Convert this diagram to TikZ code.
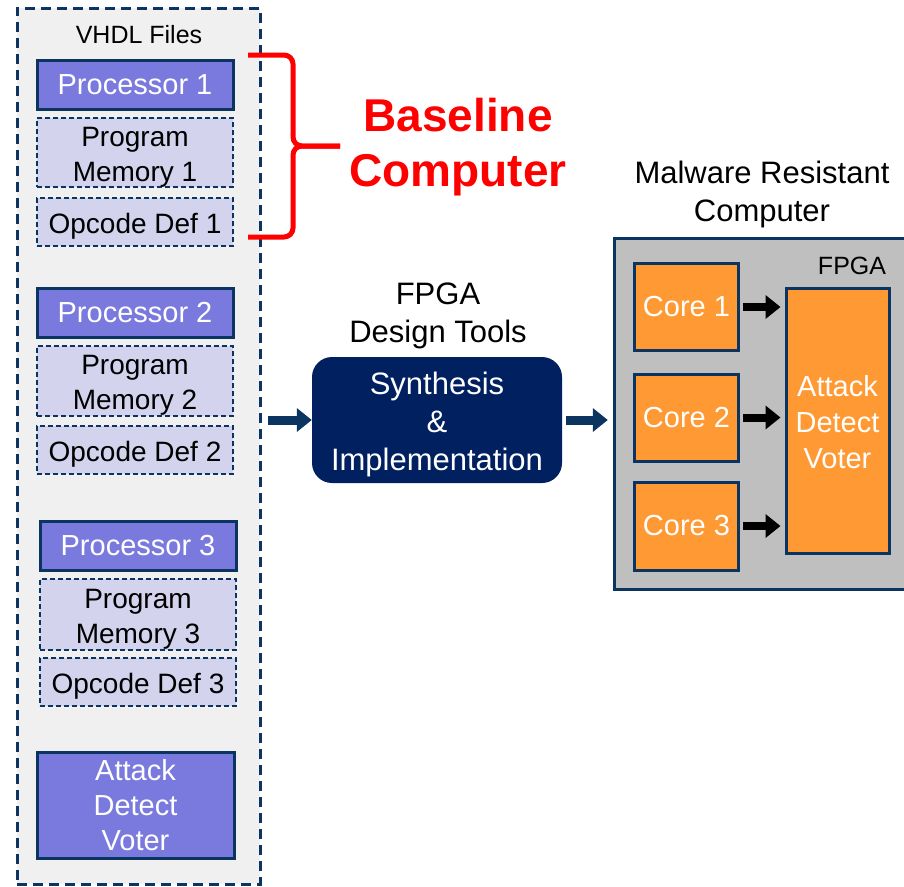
\documentclass[tikz,border=0pt]{standalone}
\usepackage{fontspec}
\setmainfont{Liberation Sans}
\usetikzlibrary{arrows.meta}
\begin{document}
\begin{tikzpicture}[x=1pt, y=-1pt,
    every node/.style={inner sep=0pt, align=center},
    proc/.style={draw=my-navy, line width=3pt, fill=my-violet, text=white, minimum width=196pt, minimum height=49pt, font=\fontsize{29}{35}\selectfont},
    src/.style={draw=my-navy, line width=2pt, dash pattern=on 5pt off 3pt, fill=my-lavender, minimum width=196pt, font=\fontsize{28}{35}\selectfont},
    core/.style={draw=my-navy, line width=3pt, fill=my-orange, text=white, minimum width=104pt, font=\fontsize{29}{36}\selectfont},
    heading/.style={font=\fontsize{31}{38}\selectfont},
    fat/.style={line width=9pt, -{Triangle[length=15pt, width=23pt]}}]
    \def\tall{\rule{0pt}{1em}}
    \definecolor{my-navy}{RGB}{12,52,97}
    \definecolor{my-dark}{RGB}{0,32,96}
    \definecolor{my-violet}{RGB}{122,122,222}
    \definecolor{my-lavender}{RGB}{211,211,238}
    \definecolor{my-light}{RGB}{240,240,240}
    \definecolor{my-gray}{RGB}{191,191,191}
    \definecolor{my-orange}{RGB}{255,153,51}
    \useasboundingbox (0,0) rectangle (904,886);
    \node[draw=my-navy, line width=3pt, dash pattern=on 10pt off 6pt, fill=my-light, minimum width=243pt, minimum height=876pt] (files) at (138.5,446) {};
    \node[font=\fontsize{25}{30}\selectfont] (filesname) at (139,35) {VHDL Files};
    \node[proc] (proc1) at (135,84.5) {Processor 1};
    \node[src, minimum height=69pt] (mem1) at (135,152.5) {\tall Program\\Memory 1};
    \node[src, minimum height=48pt] (op1) at (135,222) {\tall Opcode Def 1};
    \node[proc] (proc2) at (135,312.5) {Processor 2};
    \node[src, minimum height=70pt] (mem2) at (135,381) {\tall Program\\Memory 2};
    \node[src, minimum height=48pt] (op2) at (135,450) {\tall Opcode Def 2};
    \node[proc] (proc3) at (138,545.5) {Processor 3};
    \node[src, minimum height=71pt] (mem3) at (138,614.5) {\tall Program\\Memory 3};
    \node[src, minimum height=48pt] (op3) at (138,682) {\tall Opcode Def 3};
    \node[proc, minimum width=197pt, minimum height=106pt] (vote1) at (135.5,805) {Attack\\Detect\\Voter};
    \draw[red, line width=5pt, rounded corners=9pt] (248,55) -- (293,55) -- (293,146) -- (340,146);
    \draw[red, line width=5pt, rounded corners=9pt] (340,146) -- (293,146) -- (293,237) -- (248,237);
    \node[red, font=\fontsize{46}{55}\bfseries\selectfont] (baseline) at (458,147) {Baseline\\Computer};
    \node[heading] (tools) at (438,311) {\tall FPGA\\Design Tools};
    \node[fill=my-dark, rounded corners=20pt, minimum width=250pt, minimum height=126pt, text=white, heading] (synth) at (437,420) {\tall Synthesis\\\&\\Implementation};
    \node[heading] (mrc) at (762,190) {\tall Malware Resistant\\Computer};
    \node[fill=my-gray, minimum width=289pt, minimum height=350pt] (fpga) at (759.5,414) {};
    \draw[my-navy, line width=3pt] (fpga.north east) -- (fpga.north west) -- (fpga.south west) -- (fpga.south east);
    \node[font=\fontsize{25}{30}\selectfont] (fpganame) at (852,266) {FPGA};
    \node[core, minimum height=87pt] (core1) at (686.5,307) {Core 1};
    \node[core, minimum height=87pt] (core2) at (686.5,417.5) {Core 2};
    \node[core, minimum height=88pt] (core3) at (686.5,526) {Core 3};
    \node[core, minimum width=103pt, minimum height=265pt] (vote2) at (837.5,420.5) {\rule{0pt}{0.85em}Attack\\Detect\\Voter};
    \draw[fat, my-navy, shorten <=6pt] (files.east |- synth.west) -- (synth.west);
    \draw[fat, my-navy, shorten <=4pt, shorten >=7pt] (synth.east) -- (fpga.west |- synth.east);
    \draw[fat, black, line width=8pt, shorten <=3pt, shorten >=4pt] (core1.east) -- (core1.east -| vote2.west);
    \draw[fat, black, line width=8pt, shorten <=3pt, shorten >=4pt] (core2.east) -- (core2.east -| vote2.west);
    \draw[fat, black, line width=8pt, shorten <=3pt, shorten >=4pt] (core3.east) -- (core3.east -| vote2.west);
  \end{tikzpicture}
\end{document}
